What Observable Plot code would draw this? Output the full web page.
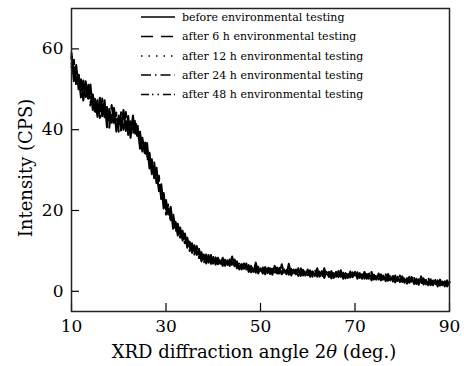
<!DOCTYPE html>
<html>
<head>
<meta charset="utf-8">
<script src="https://cdn.jsdelivr.net/npm/d3@7"></script>
<script src="https://cdn.jsdelivr.net/npm/@observablehq/plot@0.6"></script>
<style>
  html, body { margin: 0; padding: 0; background: #fff; }
  #chart { width: 464px; height: 366px; }
</style>
</head>
<body>
<div id="chart"></div>
<script>
const angles = [10,10.5,11,11.5,12,12.5,13,13.5,14,14.5,15,15.5,16,16.5,17,17.5,18,18.5,19,19.5,
20,20.5,21,21.5,22,22.5,23,23.5,24,24.5,25,25.5,26,26.5,27,27.5,28,28.5,29,29.5,
30,30.5,31,31.5,32,32.5,33,33.5,34,34.5,35,35.5,36,36.5,37,37.5,38,38.5,39,39.5,
40,40.5,41,41.5,42,42.5,43,43.5,44,44.5,45,45.5,46,46.5,47,47.5,48,48.5,49,49.5,
50,50.5,51,51.5,52,52.5,53,53.5,54,54.5,55,55.5,56,56.5,57,57.5,58,58.5,59,59.5,
60,60.5,61,61.5,62,62.5,63,63.5,64,64.5,65,65.5,66,66.5,67,67.5,68,68.5,69,69.5,
70,70.5,71,71.5,72,72.5,73,73.5,74,74.5,75,75.5,76,76.5,77,77.5,78,78.5,79,79.5,
80,80.5,81,81.5,82,82.5,83,83.5,84,84.5,85,85.5,86,86.5,87,87.5,88,88.5,89,89.5,90];

const seriesNames = [
  "before environmental testing",
  "after 6 h environmental testing",
  "after 12 h environmental testing",
  "after 24 h environmental testing",
  "after 48 h environmental testing"
];

const before = [59.0,52.0,56.0,50.0,52.5,47.2,52.0,47.8,51.2,44.9,47.6,43.2,47.9,43.3,47.3,40.6,45.1,42.4,45.4,39.5,
43.5,39.8,44.9,39.7,43.4,38.0,43.5,39.0,41.0,35.3,38.0,34.2,36.7,30.4,32.7,28.0,30.6,24.8,26.5,20.5,
22.6,19.0,20.9,15.5,17.2,13.8,15.8,12.6,14.3,10.8,12.3,9.5,11.4,9.0,10.5,7.4,9.1,6.9,9.0,6.8,
8.5,6.6,8.3,6.8,8.3,6.3,7.7,6.3,8.6,6.2,7.4,5.4,6.7,5.6,6.9,4.8,6.3,4.8,7.1,4.4,
5.6,4.4,6.0,4.5,5.7,4.1,6.3,4.4,5.8,4.2,5.4,4.2,6.8,3.9,5.4,4.2,5.7,3.8,5.3,3.9,
5.4,3.6,4.9,3.8,5.7,3.6,5.0,3.3,4.8,3.6,5.0,3.3,4.8,3.5,5.2,3.1,4.5,3.3,4.9,3.5,
4.8,3.1,4.5,3.1,4.8,3.1,4.4,2.7,4.1,2.9,4.4,2.7,3.9,2.5,4.3,2.7,3.8,2.2,3.6,2.3,
3.7,2.1,3.2,2.1,3.5,1.8,3.1,1.6,3.7,1.7,2.8,1.5,3.0,1.5,2.8,1.2,2.9,1.5,2.5,1.2,2.3];

const after6 = [55.5,57.3,50.8,53.6,48.0,52.2,48.1,51.8,46.0,49.1,43.5,47.3,42.9,47.7,43.1,45.8,40.5,46.1,41.7,44.3,
39.5,44.3,40.0,44.4,38.7,42.1,38.7,42.8,37.5,39.5,34.6,37.6,32.3,34.3,29.0,31.9,26.8,28.6,22.7,24.4,
19.0,21.7,17.6,19.5,14.5,16.7,13.3,15.0,11.9,13.3,10.0,11.9,9.1,11.2,8.3,9.7,6.9,9.1,7.0,9.0,
6.4,8.4,6.7,8.1,6.3,7.9,6.3,7.9,6.4,8.0,5.7,7.1,5.4,6.9,5.2,6.5,4.7,6.0,4.6,6.1,
4.5,5.9,4.2,6.4,4.3,5.8,4.4,5.9,4.1,6.7,4.3,5.5,4.1,5.7,4.2,5.4,3.8,5.8,3.9,5.3,
4.0,5.2,3.6,5.3,3.6,4.9,3.4,5.7,3.6,4.8,3.2,4.9,3.6,5.0,3.3,4.6,3.2,5.1,3.4,4.7,
3.1,4.7,3.3,4.7,3.1,4.3,2.9,4.8,2.9,4.2,2.9,4.2,2.6,4.2,2.6,4.0,2.4,3.9,2.2,3.9,
2.3,3.5,1.9,3.6,2.0,3.3,1.8,3.0,1.6,3.2,1.7,3.4,1.5,2.7,1.3,2.7,1.4,2.9,1.2,2.7,1.4];

const after12 = [57.8,53.3,54.5,51.4,52.0,48.8,50.0,47.7,49.3,46.4,47.3,44.5,46.4,44.4,45.7,42.8,43.9,41.7,43.9,41.6,
43.0,40.8,43.1,40.7,41.6,39.8,41.7,39.7,39.8,36.5,37.4,34.6,35.1,31.6,32.2,28.9,29.1,25.8,25.5,21.7,
21.8,19.0,19.9,16.7,17.1,14.4,15.3,12.8,13.3,11.2,12.3,10.3,11.2,9.0,9.7,7.8,8.9,7.4,8.5,7.0,
8.0,7.0,7.9,7.7,6.8,7.7,6.6,7.5,6.6,7.3,6.1,6.9,5.8,6.5,5.4,6.2,5.2,5.9,5.0,5.7,
4.7,5.6,4.7,5.5,4.6,5.4,4.5,5.6,4.6,5.5,4.5,5.3,4.4,5.3,4.3,5.1,4.3,5.1,4.1,5.0,
4.0,4.9,4.0,4.9,3.9,4.7,3.8,4.6,3.8,4.6,3.7,4.5,3.6,4.7,3.6,4.4,3.5,4.5,3.6,4.4,
3.5,4.3,3.4,4.2,3.4,4.1,3.3,4.0,3.2,3.9,3.1,3.8,2.9,3.7,2.8,3.6,2.7,3.4,2.6,3.3,
2.5,3.2,2.3,3.1,2.2,2.9,2.1,2.8,2.0,2.7,1.9,2.6,1.8,2.5,1.7,2.4,1.6,2.4,1.5,2.3,1.6];

const after24 = [56.3,55.5,51.7,53.6,50.5,51.1,47.9,50.0,47.4,48.7,45.6,46.5,44.1,46.3,43.5,44.9,41.9,43.6,41.8,43.7,
41.6,42.9,40.4,42.1,39.7,41.9,40.1,41.6,38.1,38.4,35.1,36.5,33.6,33.8,30.2,30.3,27.1,27.5,23.8,23.9,
20.2,20.4,17.5,18.2,15.6,16.5,14.0,14.5,12.0,12.6,10.6,11.6,9.8,10.5,8.2,9.2,7.5,8.8,7.1,8.1,
6.7,7.9,6.9,7.8,6.7,7.6,6.8,7.4,6.5,7.2,6.9,6.0,6.7,5.5,6.4,5.3,6.1,5.0,5.9,4.8,
5.6,4.7,5.5,4.6,5.5,4.5,5.6,4.6,5.4,4.4,5.5,4.4,5.2,4.3,5.4,4.2,5.0,4.1,5.1,4.0,
5.0,4.0,4.9,3.9,4.8,3.8,4.6,3.7,4.7,3.6,4.6,3.7,4.5,3.6,4.4,3.5,4.5,3.5,4.4,3.6,
4.4,3.4,4.3,3.3,4.2,3.3,4.1,3.2,4.0,3.1,3.9,3.0,3.8,2.9,3.7,2.8,3.6,2.6,3.4,2.5,
3.3,2.4,3.2,2.3,3.1,2.1,2.9,2.0,2.8,1.9,2.7,1.8,2.6,1.7,2.5,1.6,2.4,1.6,2.3,1.5,2.2];

const after48 = [58.2,54.8,52.2,52.6,49.9,50.6,50.5,48.3,46.8,48.1,46.8,45.1,46.4,44.5,43.3,44.5,43.6,41.9,43.6,42.2,
41.3,43.1,41.2,40.5,41.8,41.3,39.7,41.0,38.7,36.9,37.0,35.4,33.3,33.5,31.2,30.7,27.4,26.1,25.3,22.1,
21.6,19.3,19.4,17.1,15.6,15.9,15.0,13.1,13.1,12.7,11.1,11.4,9.7,9.9,9.6,8.2,8.5,7.4,8.1,7.8,
7.2,7.7,7.1,7.5,7.0,7.4,6.9,7.3,7.2,6.5,6.9,6.1,6.4,5.8,6.1,5.5,5.9,5.1,5.5,5.0,
5.3,4.9,5.3,4.8,5.2,4.8,5.3,4.9,5.2,4.8,5.2,4.7,5.1,4.6,5.0,4.5,4.9,4.5,4.8,4.3,
4.7,4.3,4.6,4.2,4.5,4.1,4.4,4.0,4.4,3.9,4.3,3.9,4.3,3.9,4.2,3.8,4.2,3.8,4.2,3.8,
4.2,3.7,4.1,3.6,4.0,3.5,3.9,3.4,3.8,3.3,3.7,3.2,3.5,3.1,3.4,3.0,3.3,2.8,3.2,2.7,
3.1,2.6,2.9,2.5,2.8,2.3,2.7,2.2,2.6,2.1,2.5,2.0,2.4,1.9,2.3,1.8,2.2,1.8,2.1,1.7,2.1];

const seriesValues = [before, after6, after12, after24, after48];
const dashes = [null, "12,8", "1.5,6", "10,4,1.5,4", "8,3,1.5,4,1.5,4"];

const xTicks = [10, 30, 50, 70, 90];
const yTicks = [0, 20, 40, 60];
const xDomain = [10, 90];
const yDomain = [-5, 70];

const FONT = "DejaVu Serif";

const lineMarks = seriesValues.map((vals, k) =>
  Plot.line(angles.map((a, i) => ({angle: a, intensity: vals[i], series: seriesNames[k]})), {
    x: "angle", y: "intensity", stroke: "#000", strokeWidth: 2,
    strokeDasharray: dashes[k] || undefined
  })
);

const plot = Plot.plot({
  width: 464,
  height: 366,
  marginLeft: 71,
  marginRight: 15,
  marginTop: 8,
  marginBottom: 55,
  style: {fontFamily: FONT, background: "#fff"},
  x: {domain: xDomain},
  y: {domain: yDomain},
  marks: [
    ...lineMarks,
    Plot.ruleX(xTicks, {x: d => d, y1: yDomain[0], y2: yDomain[0] + 2, stroke: "#000", strokeWidth: 1.2}),
    Plot.ruleY(yTicks, {y: d => d, x1: xDomain[0], x2: xDomain[0] + 1.7, stroke: "#000", strokeWidth: 1.2}),
    Plot.frame({stroke: "#222", strokeWidth: 1.5}),
    Plot.axisX({ticks: xTicks, tickSize: 0, tickPadding: 8, fontSize: 17, label: null, tickFormat: d => String(d)}),
    Plot.axisY({ticks: yTicks, tickSize: 0, tickPadding: 8, fontSize: 17, label: null, tickFormat: d => String(d)})
  ]
});

document.getElementById("chart").appendChild(plot);

// Axis titles and legend overlay
const svg = d3.select(plot);
const xl = svg.append("text")
  .attr("x", 254).attr("y", 358)
  .attr("text-anchor", "middle")
  .attr("font-family", FONT).attr("font-size", 18).attr("fill", "#000");
xl.append("tspan").text("XRD diffraction angle 2");
xl.append("tspan").attr("font-style", "italic").text("θ");
xl.append("tspan").text(" (deg.)");

svg.append("text")
  .attr("transform", "translate(32,168) rotate(-90)")
  .attr("text-anchor", "middle")
  .attr("font-family", FONT).attr("font-size", 18).attr("fill", "#000")
  .text("Intensity (CPS)");

const legendRows = [17, 36.5, 56, 75, 94.5];
const lg = svg.append("g").attr("text-anchor", "start");
seriesNames.forEach((name, k) => {
  const y = legendRows[k];
  const ln = lg.append("line")
    .attr("x1", 141).attr("x2", 175).attr("y1", y).attr("y2", y)
    .attr("stroke", "#000").attr("stroke-width", 1.5);
  if (dashes[k]) ln.attr("stroke-dasharray", dashes[k]);
  lg.append("text")
    .attr("x", 182).attr("y", y).attr("dy", "0.35em")
    .attr("text-anchor", "start")
    .attr("font-family", FONT).attr("font-size", 11).attr("fill", "#000")
    .text(name);
});
</script>
</body>
</html>
